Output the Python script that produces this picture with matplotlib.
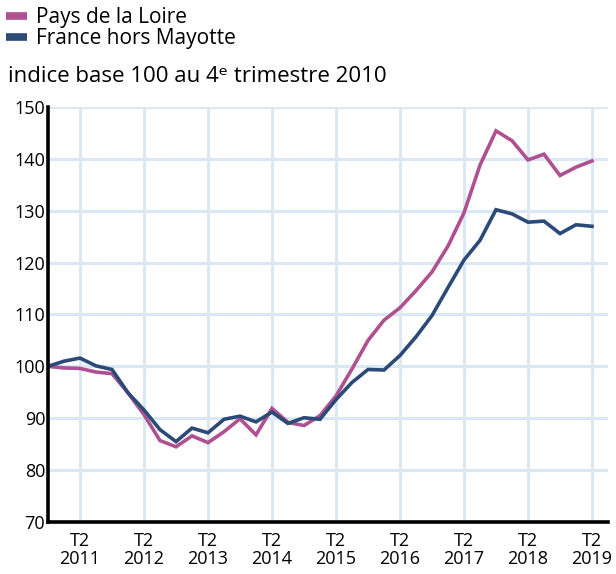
import matplotlib
matplotlib.use("Agg")
import matplotlib.pyplot as plt
from matplotlib.lines import Line2D

# quarters from 2010 T4 to 2019 T2
quarters = ["2010T4"] + [f"{y}T{q}" for y in range(2011, 2019) for q in (1, 2, 3, 4)] + ["2019T1", "2019T2"]

pays_de_la_loire = [100.0, 99.7, 99.6, 98.9, 98.6, 94.9, 90.7, 85.7, 84.5, 86.6,
                    85.3, 87.4, 89.9, 86.8, 91.9, 89.2, 88.6, 90.5, 94.3, 99.5,
                    105.0, 108.9, 111.3, 114.6, 118.2, 123.2, 129.6, 138.8, 145.4, 143.5,
                    139.8, 140.9, 136.8, 138.4, 139.6]
france_hors_mayotte = [100.0, 101.0, 101.6, 100.1, 99.4, 94.9, 91.6, 87.8, 85.5, 88.1,
                       87.2, 89.8, 90.4, 89.3, 91.2, 89.0, 90.1, 89.8, 93.6, 96.9,
                       99.4, 99.3, 102.1, 105.7, 109.8, 115.2, 120.5, 124.3, 130.2, 129.4,
                       127.8, 128.0, 125.6, 127.3, 127.0]

tick_years = ["2011", "2012", "2013", "2014", "2015", "2016", "2017", "2018", "2019"]
y_ticks = [70, 80, 90, 100, 110, 120, 130, 140, 150]

col_pdl = "#af5090"
col_fr = "#2c4a78"
grid_col = "#dae8f6"

plt.rcParams["font.family"] = ["Open Sans", "DejaVu Sans"]

W, H = 616, 574
fig = plt.figure(figsize=(W / 100, H / 100), dpi=100)
ax = fig.add_axes([48 / W, 1 - 522 / H, (608 - 48) / W, (522 - 107) / H])

x = list(range(len(quarters)))
ax.plot(x, pays_de_la_loire, color=col_pdl, lw=2.6, solid_joinstyle="miter", zorder=3)
ax.plot(x, france_hors_mayotte, color=col_fr, lw=2.6, solid_joinstyle="miter", zorder=4)

ax.set_xlim(0, len(quarters))
ax.set_ylim(70, 150)

xt = [quarters.index(f"{y}T2") for y in tick_years]
ax.set_xticks(xt)
ax.set_xticklabels([f"T2\n{y}" for y in tick_years], fontsize=13, linespacing=1.0)
ax.set_yticks(y_ticks)
ax.set_yticklabels([str(v) for v in y_ticks], fontsize=13)
ax.tick_params(length=0, pad=2)
ax.tick_params(axis="x", pad=7)

ax.grid(True, color=grid_col, lw=2.2, zorder=0)
ax.set_axisbelow(True)
for s in ("top", "right"):
    ax.spines[s].set_visible(False)
for s in ("left", "bottom"):
    ax.spines[s].set_linewidth(2.6)
    ax.spines[s].set_color("black")
    ax.spines[s].set_zorder(5)

handles = [Line2D([], [], color=col_pdl, lw=5.5, solid_capstyle="butt"),
           Line2D([], [], color=col_fr, lw=5.5, solid_capstyle="butt")]
fig.legend(handles, ["Pays de la Loire", "France hors Mayotte"], loc="upper left",
           bbox_to_anchor=(6 / W, 1 - 7 / H), frameon=False, fontsize=15,
           handlelength=1.0, handletextpad=0.45, labelspacing=0.0,
           borderaxespad=0.0, borderpad=0.0)

fig.text(8 / W, 1 - 76 / H, "indice base 100 au 4ᵉ trimestre 2010", fontsize=16,
         va="center", ha="left")

fig.savefig("out.png", dpi=100)
